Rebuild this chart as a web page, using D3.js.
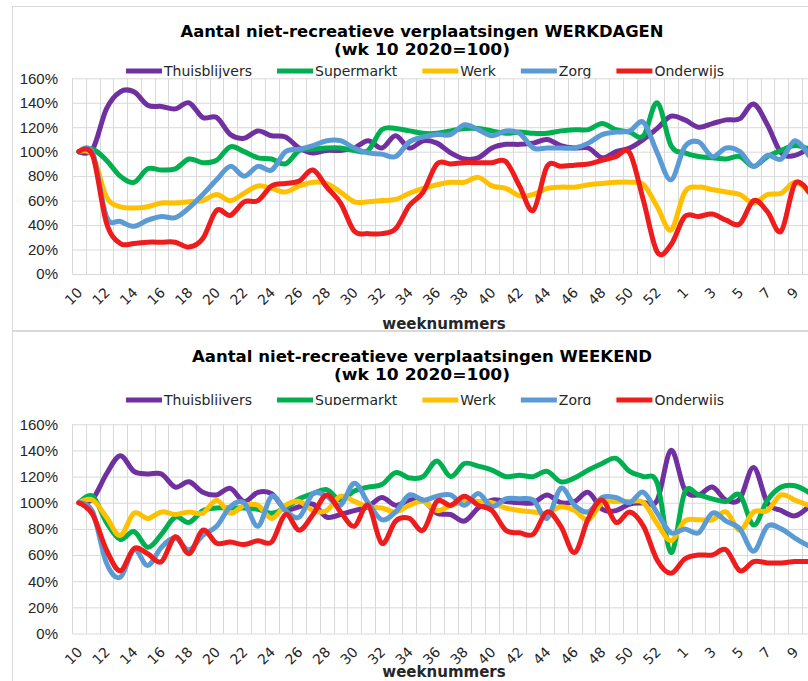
<!DOCTYPE html>
<html lang="nl">
<head>
<meta charset="UTF-8">
<script src="https://cdn.jsdelivr.net/npm/d3@7"></script>
<style>
  body { margin: 0; background: #fff; }
  svg { display: block; font-family: "DejaVu Sans", Verdana, sans-serif; }
  .grid line { stroke: #d9d9d9; stroke-width: 1; }
  .serie { fill: none; stroke-width: 5; stroke-linejoin: round; stroke-linecap: round; }
  .yas text { font-size: 15px; fill: #262626; }
  .xas text { font-size: 14px; fill: #262626; }
  .titel { font-weight: bold; font-size: 16px; fill: #000; text-anchor: middle; }
  .aslabel { font-weight: bold; font-size: 15px; fill: #262626; text-anchor: middle; }
  .legenda text { font-size: 14px; fill: #262626; }
</style>
</head>
<body>
<script>
// weeknummers: wk 10 t/m 53 (2020), wk 1 t/m 10 (2021)
var weeks = [10,11,12,13,14,15,16,17,18,19,20,21,22,23,24,25,26,27,28,29,30,31,32,33,34,35,36,37,38,39,
  40,41,42,43,44,45,46,47,48,49,50,51,52,53,1,2,3,4,5,6,7,8,9,10];
var xTickLabels = [10,12,14,16,18,20,22,24,26,28,30,32,34,36,38,40,42,44,46,48,50,52,1,3,5,7,9];
var yTicks = [0,20,40,60,80,100,120,140,160];
var seriesNames = ['Thuisblijvers','Supermarkt','Werk','Zorg','Onderwijs'];
var colors = ['#7030a0','#00b050','#ffc000','#5b9bd5','#ee1c1c'];

// WERKDAGEN
var wdThuis = [100,102,135,149,149,138,137,135,140,128, 128,114,111,117,113,112,103,99,101,101,
  103,109,103,113,103,109,107,99,94,95, 103,106,106,107,110,105,103,103,95,100,
  103,110,119,129,126,120,123,126,127,139, 122,99,97,103];
var wdSuper = [100,102,93,80,75,86,85,86,94,91, 93,104,100,95,94,90,101,102,103,103,
  101,101,118,119,117,115,115,117,119,119, 117,115,116,115,115,117,118,118,123,118,
  116,113,140,105,99,96,95,94,96,88, 96,101,105,102];
var wdWerk = [100,97,63,55,54,55,58,58,59,60, 65,60,66,72,70,67,72,75,74,67,
  59,59,60,61,66,70,73,75,75,79, 72,70,64,65,70,71,71,73,74,75,
  75,73,55,36,67,71,69,67,65,58, 65,66,75,67];
var wdZorg = [100,99,47,43,39,44,47,46,54,65, 77,88,80,88,85,100,102,105,109,109,
  103,99,98,96,108,112,114,114,122,118, 113,117,115,103,103,103,103,107,114,116,
  117,124,99,77,104,108,96,103,100,88, 97,94,109,97];
var wdOnder = [100,97,42,25,25,26,26,26,22,29, 52,48,59,60,72,74,76,85,71,58,
  35,33,33,37,56,67,90,90,91,91, 91,92,72,52,88,88,89,90,93,96,
  99,60,18,24,47,47,49,44,41,60, 51,35,74,67];

// WEEKEND
var weThuis = [100,103,122,136,124,122,122,112,116,108, 106,111,101,108,107,95,97,99,89,91,
  94,97,104,98,102,102,92,91,86,96, 102,101,100,100,106,100,101,108,95,94,
  99,100,102,140,110,106,112,102,103,127, 100,94,90,97];
var weSuper = [100,105,85,72,78,66,76,89,85,94, 96,96,96,95,92,96,103,107,110,102,
  109,112,114,123,119,120,132,120,130,128, 125,120,121,120,124,116,119,125,130,134,
  124,120,115,62,108,106,103,101,106,83, 102,112,113,108];
var weWerk = [100,102,89,75,92,88,93,91,93,92, 102,92,98,98,88,98,101,94,94,105,
  101,97,96,93,98,101,94,98,101,101, 100,96,94,93,92,97,94,87,100,101,
  101,100,84,71,86,87,87,93,79,93, 94,106,102,98];
var weZorg = [100,93,54,43,64,52,66,73,64,75, 82,97,100,82,105,94,89,107,105,98,
  115,100,87,93,106,102,105,106,98,107, 97,103,103,102,88,111,98,93,104,104,
  100,108,92,77,80,77,92,86,80,63, 82,80,73,67];
var weOnder = [100,91,64,48,65,61,55,74,61,79, 69,70,68,71,70,91,79,91,106,93,
  82,98,69,86,88,79,101,98,105,98, 94,79,77,76,93,82,62,88,102,85,
  93,82,56,46,57,60,60,64,48,55, 54,54,55,55];

var width = 808, height = 681;
var svg = d3.select('body').append('svg').attr('width', width).attr('height', height);

// kaders
svg.append('rect').attr('x', 12.5).attr('y', 6.5).attr('width', 900).attr('height', 324)
  .attr('fill', 'none').attr('stroke', '#d9d9d9');
svg.append('rect').attr('x', 12.5).attr('y', 331.5).attr('width', 900).attr('height', 400)
  .attr('fill', 'none').attr('stroke', '#d9d9d9');

var x = d3.scaleBand().domain(d3.range(weeks.length)).range([72, 815.6]);
var cx = function(i) { return x(i) + x.bandwidth() / 2; };

function paneel(opt) {
  var y = d3.scaleLinear().domain([0, 160]).range([opt.y0, opt.y1]);
  var g = svg.append('g');

  // titel
  g.append('text').attr('class', 'titel').attr('x', 422).attr('y', opt.top + 31)
    .attr('textLength', opt.titleLen).attr('lengthAdjust', 'spacingAndGlyphs')
    .text('Aantal niet-recreatieve verplaatsingen ' + opt.naam);
  g.append('text').attr('class', 'titel').attr('x', 422).attr('y', opt.top + 49)
    .attr('textLength', 176).attr('lengthAdjust', 'spacingAndGlyphs')
    .text('(wk 10 2020=100)');

  // legenda
  var leg = g.append('g').attr('class', 'legenda');
  if (opt.clipLegend) {
    svg.append('clipPath').attr('id', 'legclip').append('rect')
      .attr('x', 0).attr('y', 0).attr('width', width).attr('height', opt.clipLegend);
    leg.attr('clip-path', 'url(#legclip)');
  }
  var lx = 126;
  seriesNames.forEach(function(n, k) {
    leg.append('line').attr('x1', lx).attr('x2', lx + 36)
      .attr('y1', opt.legY).attr('y2', opt.legY)
      .attr('stroke', colors[k]).attr('stroke-width', 5);
    var t = leg.append('text').attr('x', lx + 38).attr('y', opt.legY + 5).text(n);
    lx += 38 + t.node().getComputedTextLength() + 25;
  });

  // rasterlijnen
  var grid = g.append('g').attr('class', 'grid');
  grid.selectAll('.v').data(d3.range(weeks.length + 1)).join('line')
    .attr('x1', function(i) { return Math.round(72 + i * x.step()) + 0.5; })
    .attr('x2', function(i) { return Math.round(72 + i * x.step()) + 0.5; })
    .attr('y1', y(0)).attr('y2', y(160));

  var ya = g.append('g').attr('class', 'yas grid').attr('transform', 'translate(72,0)')
    .call(d3.axisLeft(y).tickValues(yTicks).tickFormat(function(d) { return d + '%'; })
      .tickSize(-(815.6 - 72)).tickPadding(14));
  ya.select('.domain').remove();

  // x-as
  var xa = g.append('g').attr('class', 'xas').attr('transform', 'translate(0,' + (y(0) + 16) + ')');
  xa.selectAll('text').data(xTickLabels).join('text')
    .attr('transform', function(d, k) { return 'translate(' + (cx(k * 2) + 1) + ',0) rotate(-45)'; })
    .attr('text-anchor', 'end').attr('dy', '0.35em')
    .text(function(d) { return d; });

  g.append('text').attr('class', 'aslabel').attr('x', 444).attr('y', opt.xTitleY).text('weeknummers');

  // lijnen
  var line = d3.line().x(function(d, i) { return cx(i); }).y(function(d) { return y(d); })
    .curve(d3.curveCardinal.tension(0));
  g.selectAll('.serie').data(opt.data).join('path')
    .attr('class', 'serie')
    .attr('stroke', function(d, k) { return colors[k]; })
    .attr('d', line);
}

paneel({ naam: 'WERKDAGEN', top: 6, titleLen: 483, legY: 71, y0: 274, y1: 78.3, xTitleY: 329,
  data: [wdThuis, wdSuper, wdWerk, wdZorg, wdOnder] });
paneel({ naam: 'WEEKEND', top: 331, titleLen: 460, legY: 400, clipLegend: 405, y0: 633.5, y1: 424.3, xTitleY: 677,
  data: [weThuis, weSuper, weWerk, weZorg, weOnder] });
</script>
</body>
</html>
